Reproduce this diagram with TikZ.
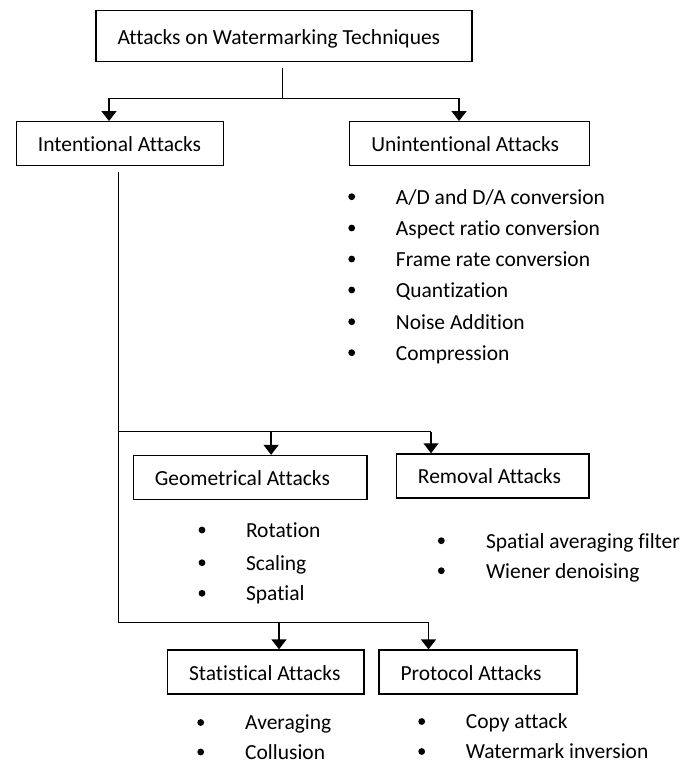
\documentclass[tikz,border=0pt]{standalone}
\usepackage{fontspec}
\setmainfont{Carlito}[Ligatures={NoCommon}]
\usetikzlibrary{arrows.meta}
\newcommand{\bxt}[2]{\hbox to \dimexpr#1pt-43pt\relax{#2\hss}}
\begin{document}
\begin{tikzpicture}[x=1pt,y=-1pt,
 every node/.style={font=\fontsize{21.5}{25}\selectfont},
 box/.style={draw, line width=1.3pt, inner xsep=21.5pt, inner ysep=0pt, minimum height=44pt, text height=20pt, text depth=4pt},
 conn/.style={line width=1.4pt},
 arr/.style={conn, -{Triangle[width=15pt,length=10pt]}},
 dot/.style={circle, fill, inner sep=0pt, minimum size=6.8pt},
 item/.style={anchor=base west, inner sep=0pt}]
\useasboundingbox (0,0) rectangle (689,763);

% boxes
\node[box, minimum height=51pt] (top) at (284,36.2) {\bxt{376}{Attacks on Watermarking Techniques}};
\node[box] (intent) at (120,143.7) {\bxt{207.2}{Intentional Attacks}};
\node[box] (unint) at (469.8,143.7) {\bxt{240}{Unintentional Attacks}};
\node[box] (geo) at (250.2,477.5) {\bxt{233.8}{Geometrical Attacks}};
\node[box] (rem) at (492.7,475.9) {\bxt{192.5}{Removal Attacks}};
\node[box] (stat) at (265.75,672) {\bxt{196.5}{Statistical Attacks}};
\node[box] (prot) at (478,672) {\bxt{198}{Protocol Attacks}};

% junction coordinates
\coordinate (j1) at (282.7,98.3);
\coordinate (b1l) at (109,98.3);
\coordinate (b1r) at (459,98.3);
\coordinate (v0) at (118.5,172);
\coordinate (b2l) at (118.5,431.7);
\coordinate (b2m) at (271.1,431.7);
\coordinate (b2r) at (431,431.7);
\coordinate (b3l) at (118.5,622.3);
\coordinate (b3m) at (279,622.3);
\coordinate (b3r) at (428.5,622.3);

% connectors
\draw[conn] ([yshift=-6pt]top.south -| j1) -- (j1);
\draw[conn] (b1l) -- (b1r);
\draw[arr] (b1l) -- (b1l |- intent.north);
\draw[arr] (b1r) -- (b1r |- unint.north);
\draw[conn] (v0) -- (b3l) -- (b3r);
\draw[conn] (b2l) -- (b2r);
\draw[arr] (b2m) -- (b2m |- geo.north);
\draw[arr] (b2r) -- (b2r |- rem.north);
\draw[arr] (b3m) -- (b3m |- stat.north);
\draw[arr] (b3r) -- (b3r |- prot.north);

% unintentional list
\foreach \n/\y/\t in {1/196.7/{A/D and D/A conversion},2/228/{Aspect ratio conversion},3/259/{Frame rate conversion},4/290/{Quantization},5/321.7/{Noise Addition},6/352.7/{Compression}}{
  \node[dot] (ud\n) at (351.7,\y) {};
  \node[item] (ut\n) at (395.7,\y+7.5) {\t};
}
% geometrical list
\foreach \n/\y/\t in {1/530/{Rotation},2/562.7/{Scaling},3/593.3/{Spatial}}{
  \node[dot] (gd\n) at (202,\y) {};
  \node[item] (gt\n) at (245.8,\y+7.5) {\t};
}
% removal list
\foreach \n/\y/\t in {1/540.7/{Spatial averaging filter},2/570.7/{Wiener denoising}}{
  \node[dot] (rd\n) at (441.3,\y) {};
  \node[item] (rt\n) at (485.8,\y+7.5) {\t};
}
% statistical list
\foreach \n/\y/\t in {1/722.5/{Averaging},2/752/{Collusion}}{
  \node[dot] (sd\n) at (200.7,\y) {};
  \node[item] (st\n) at (245,\y+7) {\t};
}
% protocol list
\foreach \n/\y/\t in {1/721.5/{Copy attack},2/751.5/{Watermark inversion}}{
  \node[dot] (pd\n) at (421.7,\y) {};
  \node[item] (pt\n) at (465.7,\y+7) {\t};
}
\end{tikzpicture}
\end{document}
